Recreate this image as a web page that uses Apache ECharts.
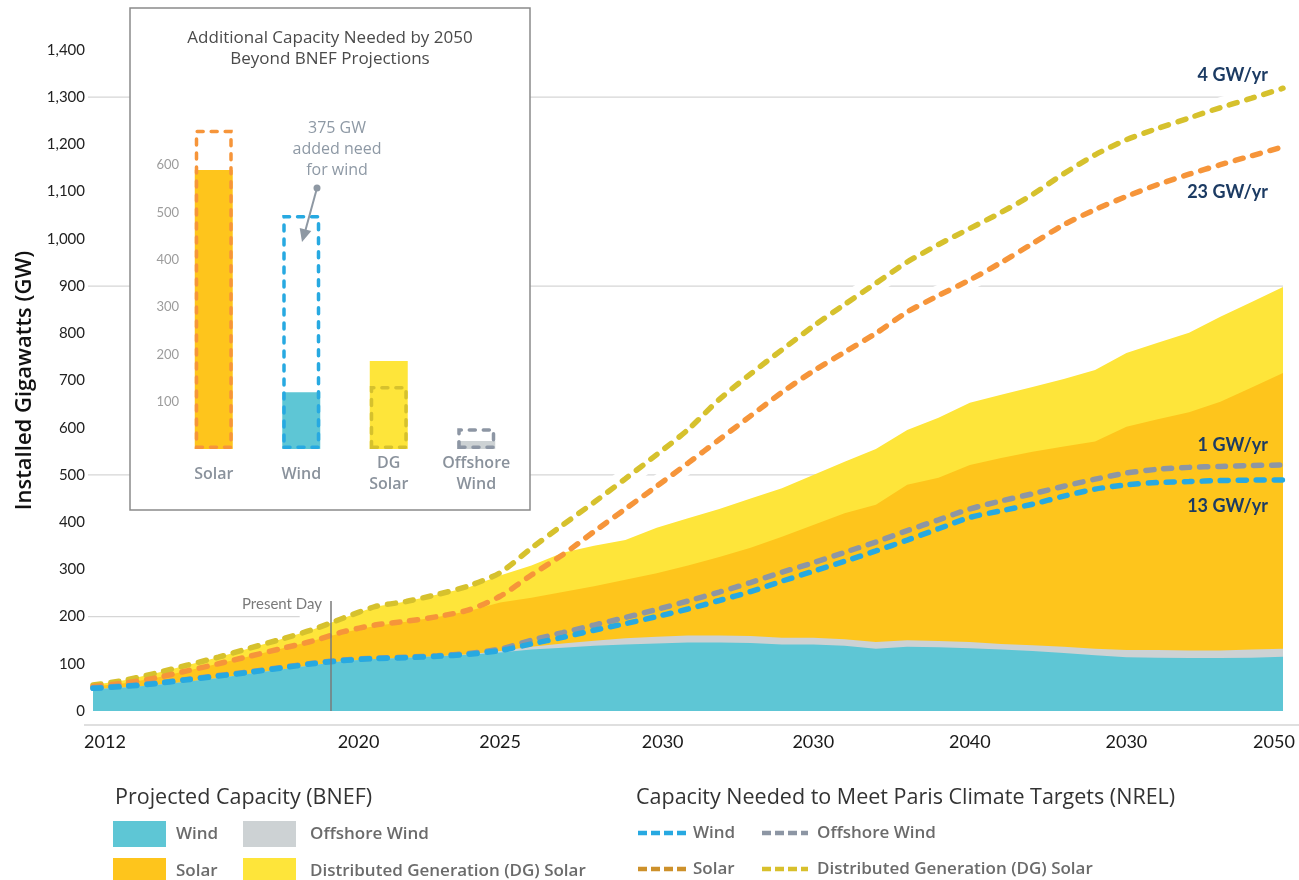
<!DOCTYPE html>
<html>
<head>
<meta charset="utf-8">
<script src="https://cdn.jsdelivr.net/npm/echarts@6/dist/echarts.min.js"></script>
<style>
  html, body { margin: 0; padding: 0; background: #fff; }
  #chart { width: 1299px; height: 880px; }
</style>
</head>
<body>
<div id="chart"></div>
<script>
// ---- Data -------------------------------------------------------------
const years = [2012, 2013, 2014, 2015, 2016, 2017, 2018, 2019, 2020, 2021, 2022, 2023, 2024,
  2025, 2026, 2027, 2028, 2029, 2030, 2031, 2032, 2033, 2034, 2035, 2036, 2037, 2038, 2039,
  2040, 2041, 2042, 2043, 2044, 2045, 2046, 2047, 2048, 2049, 2050];

// Projected capacity (BNEF), GW, stacked layers
const bnefWind = [46, 50, 55, 62, 70, 79, 88, 97, 106, 110, 113, 116, 119, 124, 130, 134, 138, 141, 143,
  145, 145, 144, 141, 141, 138, 132, 136, 135, 133, 130, 127, 123, 118, 114, 113, 112, 112, 113, 115];
const bnefOffshore = [0, 0, 0, 0, 0, 0, 0, 0, 0, 0, 0, 0, 1, 3, 6, 9, 11, 13, 14,
  15, 15, 15, 14, 14, 14, 14, 14, 13, 13, 12, 12, 13, 14, 15, 16, 16, 16, 17, 17];
const bnefSolar = [6, 9, 15, 23, 30, 37, 44, 51, 60, 70, 76, 83, 92, 103, 104, 109, 115, 124, 135,
  148, 166, 187, 214, 239, 267, 291, 329, 346, 375, 394, 410, 424, 439, 473, 489, 505, 527, 555, 584];
const bnefDG = [3, 6, 10, 12, 14, 17, 20, 24, 31, 41, 43, 48, 50, 57, 68, 83, 86, 84, 96,
  100, 102, 104, 103, 106, 109, 118, 116, 127, 132, 134, 137, 143, 151, 156, 162, 168, 180, 181, 182];

// Capacity needed for Paris targets (NREL), GW, cumulative levels
const nrelWind = [48, 52, 58, 66, 74, 82, 91, 100, 107, 111, 113, 116, 120, 128, 142, 156, 171, 185, 200,
  216, 234, 253, 275, 296, 317, 339, 362, 386, 410, 424, 438, 455, 470, 479, 484, 486, 488, 489, 489];
const nrelOffshore = [49, 53, 59, 67, 75, 83, 92, 101, 108, 112, 114, 117, 122, 131, 150, 166, 182, 198, 215,
  233, 252, 272, 294, 314, 336, 358, 382, 405, 428, 445, 460, 476, 491, 504, 512, 516, 518, 520, 521];
const nrelSolar = [52, 59, 70, 85, 100, 116, 132, 148, 168, 182, 190, 200, 214, 243, 288, 331, 380, 428, 476,
  525, 575, 625, 675, 720, 760, 800, 845, 880, 913, 950, 990, 1030, 1062, 1090, 1115, 1137, 1157, 1176, 1195];
const nrelDG = [55, 65, 80, 97, 114, 133, 152, 172, 197, 221, 232, 247, 265, 293, 345, 394, 442, 492, 543,
  596, 660, 714, 765, 815, 861, 906, 951, 988, 1022, 1056, 1094, 1138, 1178, 1210, 1234, 1256, 1278, 1298, 1319];

// Axis ticks
const tickYears = [2012, 2020, 2025, 2030, 2035, 2040, 2045, 2050];
const tickLabels = ['2012', '2020', '2025', '2030', '2030', '2040', '2030', '2050'];
const yTicks = [0, 100, 200, 300, 400, 500, 600, 700, 800, 900, 1000, 1100, 1200, 1300, 1400];
const gridLevels = [200, 500, 900, 1300];
const presentDay = 2019.6;

// Growth-rate notes at the end of the NREL lines
const rateLabels = ['4 GW/yr', '23 GW/yr', '1 GW/yr', '13 GW/yr'];

// Inset: additional capacity needed by 2050
const insetCategories = ['Solar', 'Wind', 'DG\nSolar', 'Offshore\nWind'];
const insetProjected = [590, 120, 186, 17];
const insetNeeded = [675, 495, 133, 44];
const insetTicks = [100, 200, 300, 400, 500, 600];

// ---- Styles -----------------------------------------------------------
const FONT = '"Open Sans", Lato, sans-serif';
const NUM_FONT = 'Lato, "Open Sans", sans-serif';
const AREA = { wind: '#5ec6d5', off: '#cdd2d4', solar: '#fec51c', dg: '#fee53a' };
const LINE = { wind: '#27a9e1', off: '#8d96a4', solar: '#f6953a', dg: '#d6c12d' };
const LEGEND_LINE = { wind: '#27a9e1', off: '#8d96a4', solar: '#cd912b', dg: '#d8c02c' };

const pairs = arr => arr.map((v, i) => [years[i], v]);
// running total of the BNEF layers, so each layer's upper edge can be filled down to zero
const layerTop = (...layers) => years.map((_, i) => layers.reduce((s, a) => s + a[i], 0));

function areaSeries(name, data, color, extra) {
  return Object.assign({
    name, type: 'line', data: pairs(data), z: 2,
    symbol: 'none', silent: true, smooth: false,
    lineStyle: { width: 0 }, areaStyle: { color, opacity: 1 }
  }, extra || {});
}
function haloSeries(data) {
  return {
    type: 'line', data: pairs(data), z: 1, symbol: 'none', silent: true, smooth: 0.25,
    lineStyle: { color: '#fff', width: 20, type: 'solid' }
  };
}
function dashSeries(name, data, color) {
  return {
    name, type: 'line', data: pairs(data), z: 3, symbol: 'none', silent: true, smooth: 0.25,
    lineStyle: { color, width: 5.5, type: [8, 10], cap: 'round' }
  };
}

const chart = echarts.init(document.getElementById('chart'), null, { renderer: 'canvas' });

const xl = pad => ({ fontSize: 18, color: '#1a1a1a', fontFamily: NUM_FONT, padding: pad });
const xLabelRich = {
  first: xl([0, 0, 0, 24]), second: xl([0, 0, 0, 30]), mid: xl([0, 0, 0, 12]),
  last: xl([0, 18, 0, 0]), n: xl([0, 0, 0, 0])
};
const xLabelKey = ['first', 'second', 'n', 'mid', 'n', 'n', 'n', 'last'];

const plainText = (text, x, y, font, fill, align, z) => ({
  type: 'text', x, y, z: z || 20, silent: true,
  style: { text, fill, font, textAlign: align, textVerticalAlign: 'middle', align, verticalAlign: 'middle' }
});
const legendText = (text, x, y) => plainText(text, x, y, '600 17px ' + FONT, '#6b6b6b', 'left');
const dashIcon = (x1, x2, y, color) => ({
  type: 'line', z: 20, silent: true,
  shape: { x1, y1: y, x2, y2: y },
  style: { stroke: color, lineWidth: 4.5, lineDash: [9, 4], lineCap: 'butt' }
});

const areaLegend = [
  { name: 'Wind', color: AREA.wind }, { name: 'Offshore Wind', color: AREA.off },
  { name: 'Solar', color: AREA.solar }, { name: 'Distributed Generation (DG) Solar', color: AREA.dg }
];
const lineLegend = [
  { name: 'Wind', color: LEGEND_LINE.wind }, { name: 'Offshore Wind', color: LEGEND_LINE.off },
  { name: 'Solar', color: LEGEND_LINE.solar }, { name: 'Distributed Generation (DG) Solar', color: LEGEND_LINE.dg }
];

const titleFont = '17px ' + FONT;
const noteFont = '16px ' + FONT;
const graphics = [
  // x axis base line
  { type: 'line', z: 5, silent: true, shape: { x1: 84, y1: 725, x2: 1299, y2: 725 },
    style: { stroke: '#d4d4d4', lineWidth: 1.5 } },
  // inset panel
  { type: 'rect', z: 10, silent: true, shape: { x: 130, y: 8, width: 400, height: 502 },
    style: { fill: '#fff', stroke: '#8a8a8a', lineWidth: 1.5 } },
  plainText('Additional Capacity Needed by 2050', 330, 38, titleFont, '#4a4a4a', 'center', 15),
  plainText('Beyond BNEF Projections', 330, 59, titleFont, '#4a4a4a', 'center', 15),
  plainText('375 GW', 337, 128, noteFont, '#8e99a5', 'center', 15),
  plainText('added need', 337, 149, noteFont, '#8e99a5', 'center', 15),
  plainText('for wind', 337, 170, noteFont, '#8e99a5', 'center', 15),
  { type: 'circle', z: 15, silent: true, shape: { cx: 317, cy: 188, r: 3.5 }, style: { fill: '#8e98a3' } },
  { type: 'line', z: 15, silent: true, shape: { x1: 317, y1: 188, x2: 305.5, y2: 230 },
    style: { stroke: '#8e98a3', lineWidth: 2 } },
  { type: 'polygon', z: 15, silent: true, shape: { points: [[302, 242], [311.3, 231.1], [299.7, 227.9]] },
    style: { fill: '#8e98a3' } },
  // present day note
  plainText('Present Day', 322, 604, '15px ' + NUM_FONT, '#7a7a7a', 'right'),
  // growth-rate notes
  plainText(rateLabels[0], 1268, 75, 'bold 18px ' + NUM_FONT, '#1c3b63', 'right'),
  plainText(rateLabels[1], 1268, 192, 'bold 18px ' + NUM_FONT, '#1c3b63', 'right'),
  plainText(rateLabels[2], 1268, 445, 'bold 18px ' + NUM_FONT, '#1c3b63', 'right'),
  plainText(rateLabels[3], 1268, 506, 'bold 18px ' + NUM_FONT, '#1c3b63', 'right'),
  // legend headers
  plainText('Projected Capacity (BNEF)', 115, 798, '21.5px ' + FONT, '#333', 'left'),
  plainText('Capacity Needed to Meet Paris Climate Targets (NREL)', 636, 798, '21.5px ' + FONT, '#333', 'left')
];

// area legend (2 x 2)
const areaSlots = [[113, 821, 176], [243, 821, 310], [113, 858, 176], [243, 858, 310]];
areaLegend.forEach((it, i) => {
  const [sx, sy, tx] = areaSlots[i];
  graphics.push({ type: 'rect', z: 20, silent: true, shape: { x: sx, y: sy, width: 53, height: 26 }, style: { fill: it.color } });
  graphics.push(legendText(it.name, tx, sy + 13));
});
// line legend (2 x 2)
const lineSlots = [[638, 686, 833, 693], [762, 808, 833, 817], [638, 686, 869, 693], [762, 808, 869, 817]];
lineLegend.forEach((it, i) => {
  const [x1, x2, y, tx] = lineSlots[i];
  graphics.push(dashIcon(x1, x2, y, it.color));
  graphics.push(legendText(it.name, tx, y));
});

const option = {
  animation: false,
  backgroundColor: '#fff',
  textStyle: { fontFamily: FONT },
  grid: [
    { left: 93, right: 16, top: 50, bottom: 169 },
    { left: 170, width: 350, top: 118, bottom: 431 }
  ],
  xAxis: [
    {
      type: 'value', gridIndex: 0, min: years[0], max: years[years.length - 1], interval: 1,
      axisLine: { show: false }, axisTick: { show: false }, splitLine: { show: false },
      axisLabel: {
        margin: 22, fontSize: 18, color: '#1a1a1a', fontFamily: NUM_FONT, rich: xLabelRich,
        formatter: v => {
          const i = tickYears.indexOf(v);
          return i < 0 ? '' : '{' + xLabelKey[i] + '|' + tickLabels[i] + '}';
        }
      }
    },
    {
      type: 'category', gridIndex: 1, data: insetCategories, z: 12,
      axisLine: { show: false }, axisTick: { show: false },
      axisLabel: { margin: 25, fontSize: 16, fontWeight: 600, fontFamily: FONT, color: '#8a929c',
        lineHeight: 21, verticalAlign: 'middle', interval: 0 }
    }
  ],
  yAxis: [
    {
      type: 'value', gridIndex: 0, min: yTicks[0], max: yTicks[yTicks.length - 1], interval: 100,
      axisLine: { show: false }, axisTick: { show: false }, splitLine: { show: false },
      axisLabel: { margin: 8, fontSize: 15, color: '#222', fontFamily: NUM_FONT, formatter: v => v.toLocaleString('en-US') },
      name: 'Installed Gigawatts (GW)', nameLocation: 'middle', nameGap: 52,
      nameTextStyle: { fontSize: 22, fontWeight: 600, color: '#111', fontFamily: FONT }
    },
    {
      type: 'value', gridIndex: 1, min: 0, max: 700, interval: 100, z: 12, offset: -17,
      axisLine: { show: false }, axisTick: { show: false }, splitLine: { show: false },
      axisLabel: { margin: 8, fontSize: 13, color: '#9c9c9c', fontFamily: NUM_FONT,
        formatter: v => insetTicks.indexOf(v) >= 0 ? String(v) : '' }
    }
  ],
  graphic: { elements: graphics },
  series: [
    // horizontal reference lines
    {
      type: 'custom', xAxisIndex: 0, yAxisIndex: 0, z: 0, silent: true, clip: false,
      data: gridLevels.map((lv, i) => [years[0], i === 0 ? 2018.6 : years[years.length - 1], lv]),
      encode: { x: [0, 1], y: 2 },
      renderItem: (params, api) => {
        const a = api.coord([api.value(0), api.value(2)]);
        const b = api.coord([api.value(1), api.value(2)]);
        return { type: 'line', shape: { x1: a[0] - 5, y1: a[1], x2: b[0], y2: b[1] },
          style: { stroke: '#d6d6d6', lineWidth: 1.3 } };
      }
    },
    haloSeries(nrelDG), haloSeries(nrelSolar), haloSeries(nrelOffshore), haloSeries(nrelWind),
    // BNEF layers, drawn from the top layer down so each lower layer covers the one above
    areaSeries('Distributed Generation (DG) Solar', layerTop(bnefWind, bnefOffshore, bnefSolar, bnefDG), AREA.dg),
    areaSeries('Solar', layerTop(bnefWind, bnefOffshore, bnefSolar), AREA.solar),
    areaSeries('Offshore Wind', layerTop(bnefWind, bnefOffshore), AREA.off),
    areaSeries('Wind', bnefWind, AREA.wind, {
      markLine: {
        silent: true, symbol: 'none', label: { show: false },
        lineStyle: { color: '#7a7a7a', width: 1.5, type: 'solid' },
        data: [[{ coord: [presentDay, 0] }, { coord: [presentDay, 233] }]]
      }
    }),
    dashSeries('DG Solar need', nrelDG, LINE.dg),
    dashSeries('Solar need', nrelSolar, LINE.solar),
    dashSeries('Offshore Wind need', nrelOffshore, LINE.off),
    dashSeries('Wind need', nrelWind, LINE.wind),
    // inset bars
    {
      type: 'bar', xAxisIndex: 1, yAxisIndex: 1, z: 13, barWidth: 38, silent: true,
      data: insetProjected.map((v, i) => ({ value: v, itemStyle: { color: [AREA.solar, AREA.wind, AREA.dg, AREA.off][i] } }))
    },
    {
      type: 'bar', xAxisIndex: 1, yAxisIndex: 1, z: 14, barWidth: 38, barGap: '-100%', silent: true,
      data: insetNeeded.map((v, i) => ({
        value: v,
        itemStyle: { color: 'rgba(0,0,0,0)', borderColor: [LINE.solar, LINE.wind, LINE.dg, LINE.off][i],
          borderWidth: 3.5, borderType: [6, 8], borderCap: 'round' }
      }))
    }
  ]
};

chart.setOption(option);
</script>
</body>
</html>
